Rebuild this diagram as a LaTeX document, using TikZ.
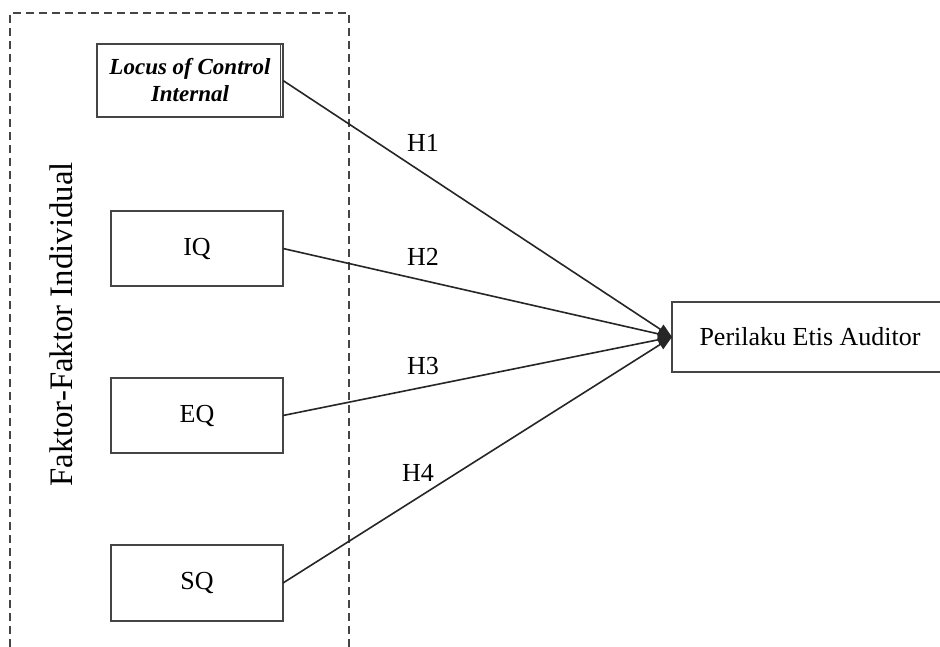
\documentclass[tikz,border=0pt]{standalone}
\usepackage{fontspec}
\setmainfont{Liberation Serif}
\usetikzlibrary{arrows.meta}
\definecolor{boxline}{HTML}{454545}
\definecolor{conline}{HTML}{262626}
\tikzset{
  x=1pt, y=-1pt,
  varbox/.style={draw=boxline, line width=1.4pt, inner sep=0pt, outer sep=0pt,
    align=center, font=\fontsize{26}{30}\selectfont},
  conn/.style={draw=conline, line width=1.6pt, -{Triangle[length=14pt,width=11pt]}},
  hlabel/.style={inner sep=0pt, font=\fontsize{26}{30}\selectfont},
  groupframe/.style={draw=boxline, line width=1.5pt, dash pattern=on 8pt off 5pt}
}
\begin{document}
\begin{tikzpicture}
\useasboundingbox (0,0) rectangle (940,647);
\fill[white] (0,0) rectangle (940,647);
% group frame
\draw[groupframe] (10,660) -- (10,13) -- (349,13) -- (349,660);
\node[rotate=90, inner sep=0pt, font=\fontsize{32.8}{36}\selectfont] (grp) at (61,324.5) {Faktor-Faktor Individual};
% variable boxes
\node[varbox, minimum width=186pt, minimum height=73pt,
      font=\fontsize{23}{27}\selectfont\bfseries\itshape] (loc) at (190,80.5) {Locus of Control\\Internal};
\draw[boxline, line width=1.1pt] ([xshift=-2.2pt]loc.north east) -- ([xshift=-2.2pt]loc.south east);
\node[varbox, minimum width=172pt, minimum height=75pt] (iq) at (197,248.5) {IQ};
\node[varbox, minimum width=172pt, minimum height=75pt] (eq) at (197,415.5) {EQ};
\node[varbox, minimum width=172pt, minimum height=76pt] (sq) at (197,583) {SQ};
\node[varbox, minimum width=276pt, minimum height=70pt] (pea) at (810,337) {Perilaku Etis Auditor};
% connectors
\draw[conn] (loc.east) -- (pea.west);
\draw[conn] (iq.east) -- (pea.west);
\draw[conn] (eq.east) -- (pea.west);
\draw[conn] (sq.east) -- (pea.west);
% labels
\node[hlabel] (h1) at (423,143) {H1};
\node[hlabel] (h2) at (423,257) {H2};
\node[hlabel] (h3) at (423,366) {H3};
\node[hlabel] (h4) at (418,473) {H4};
\end{tikzpicture}
\end{document}
